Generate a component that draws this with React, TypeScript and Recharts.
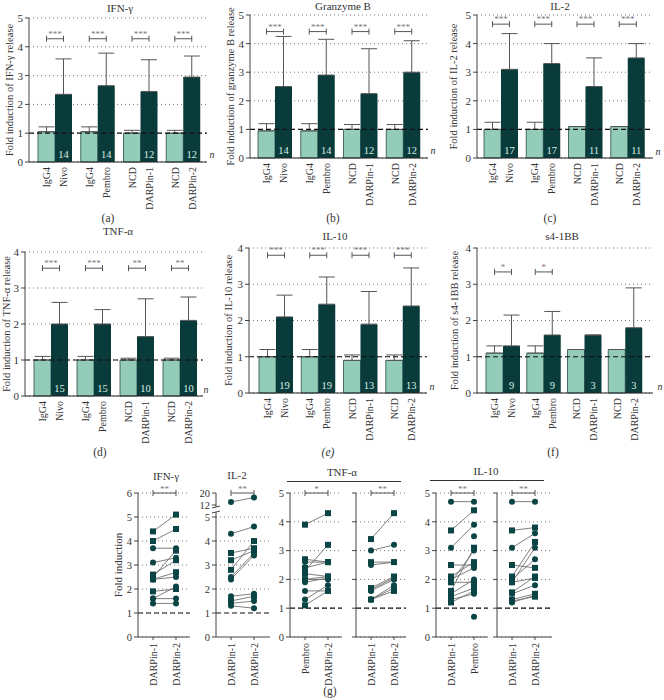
import React from 'react'
import {
  BarChart, Bar, XAxis, YAxis, CartesianGrid, ReferenceLine, ErrorBar, LabelList,
  LineChart, Line,
} from 'recharts'

const FONT = '"Liberation Serif", "DejaVu Serif", serif'
const LIGHT = '#93cdb9'
const DARK = '#0a3b3b'
const DOT = '#0b4444'
const INK = '#333'

// bar panels: pairs of control / treatment
const ctrlLabels = ['IgG4', 'IgG4', 'NCD', 'NCD']
const treatLabels = ['Nivo', 'Pembro', 'DARPin-1', 'DARPin-2']

const ticks5 = [0, 1, 2, 3, 4, 5]
const ticks4 = [0, 1, 2, 3, 4]

// (a) IFN-γ
const ifngCtrl = [1.05, 1.05, 1.0, 1.0]
const ifngCtrlErr = [0.17, 0.17, 0.1, 0.1]
const ifngTreat = [2.35, 2.65, 2.45, 2.95]
const ifngTreatErr = [1.23, 1.13, 1.1, 0.73]
const ifngN = [14, 14, 12, 12]
const ifngSig = ['***', '***', '***', '***']

// (b) Granzyme B
const gzbCtrl = [0.95, 0.95, 1.0, 1.0]
const gzbCtrlErr = [0.25, 0.25, 0.17, 0.17]
const gzbTreat = [2.5, 2.9, 2.25, 3.0]
const gzbTreatErr = [1.75, 1.25, 1.57, 1.1]
const gzbN = [14, 14, 12, 12]
const gzbSig = ['***', '***', '***', '***']

// (c) IL-2
const il2Ctrl = [1.0, 1.0, 1.1, 1.1]
const il2CtrlErr = [0.25, 0.25, 0, 0]
const il2Treat = [3.1, 3.3, 2.5, 3.5]
const il2TreatErr = [1.25, 0.7, 1.0, 0.5]
const il2N = [17, 17, 11, 11]
const il2Sig = ['***', '***', '***', '***']

// (d) TNF-α
const tnfCtrl = [1.0, 1.0, 1.0, 1.0]
const tnfCtrlErr = [0.1, 0.1, 0.05, 0.05]
const tnfTreat = [2.0, 2.0, 1.65, 2.1]
const tnfTreatErr = [0.6, 0.4, 1.05, 0.65]
const tnfN = [15, 15, 10, 10]
const tnfSig = ['***', '***', '**', '**']

// (e) IL-10
const il10Ctrl = [1.0, 1.0, 0.9, 0.9]
const il10CtrlErr = [0.2, 0.2, 0.15, 0.15]
const il10Treat = [2.1, 2.45, 1.9, 2.4]
const il10TreatErr = [0.6, 0.75, 0.9, 1.05]
const il10N = [19, 19, 13, 13]
const il10Sig = ['***', '***', '***', '***']

// (f) s4-1BB
const bbCtrl = [1.1, 1.1, 1.2, 1.2]
const bbCtrlErr = [0.2, 0.2, 0, 0]
const bbTreat = [1.3, 1.6, 1.6, 1.8]
const bbTreatErr = [0.85, 0.65, 0, 1.1]
const bbN = [9, 9, 3, 3]
const bbSig = ['*', '*', '', '']

// (g) paired donors
const ifngGCats = ['DARPin-1', 'DARPin-2']
const ifngGLeft = [4.4, 4.0, 3.7, 3.1, 2.6, 2.5, 2.4, 2.4, 1.9, 1.6, 1.6, 1.4]
const ifngGRight = [5.1, 4.5, 3.7, 3.3, 3.2, 3.6, 2.7, 2.5, 2.0, 2.1, 1.6, 1.4]
const ifngGShape = ['s', 's', 'c', 'c', 's', 's', 's', 'c', 's', 'c', 'c', 'c']

const il2GCats = ['DARPin-1', 'DARPin-2']
const il2GLeft = [14, 4.3, 3.5, 3.2, 2.8, 2.5, 2.4, 1.7, 1.5, 1.4, 1.3]
const il2GRight = [17, 4.6, 3.7, 3.6, 4.0, 3.5, 3.4, 1.8, 1.7, 1.5, 1.2]
const il2GShape = ['c', 'c', 's', 's', 's', 'c', 'c', 'c', 's', 'c', 'c']

const tnfG1Cats = ['Pembro', 'DARPin-2']
const tnfG1Left = [3.9, 2.7, 2.6, 2.4, 2.3, 2.2, 2.0, 2.0, 1.9, 1.6, 1.3, 1.1]
const tnfG1Right = [4.3, 2.6, 2.6, 2.6, 3.2, 2.1, 2.1, 2.0, 2.05, 1.6, 1.8, 1.6]
const tnfG1Shape = ['s', 's', 'c', 's', 's', 's', 's', 'c', 'c', 'c', 'c', 's']

const tnfG2Cats = ['DARPin-1', 'DARPin-2']
const tnfG2Left = [3.4, 3.0, 2.6, 2.5, 1.7, 1.65, 1.6, 1.3, 1.3, 1.3]
const tnfG2Right = [4.3, 3.2, 2.6, 2.6, 2.1, 2.05, 2.0, 1.8, 1.6, 1.7]
const tnfG2Shape = ['s', 'c', 's', 'c', 's', 's', 'c', 'c', 's', 'c']

const il10G1Cats = ['DARPin-1', 'Pembro']
const il10G1Left = [4.7, 3.7, 3.1, 2.5, 2.1, 2.0, 1.9, 1.9, 1.6, 1.5, 1.4, 1.3, 1.2, null, null, null]
const il10G1Right = [4.7, 4.4, 3.9, 2.5, 2.6, 2.4, 3.0, 1.9, 3.1, 2.0, 1.7, 1.5, 1.6, 3.5, 0.7, 1.8]
const il10G1Shape = ['c', 's', 'c', 's', 's', 'c', 'c', 's', 's', 'c', 's', 'c', 's', 'c', 'c', 's']

const il10G2Cats = ['DARPin-1', 'DARPin-2']
const il10G2Left = [4.7, 3.7, 3.1, 2.5, 2.1, 2.0, 1.9, 1.9, 1.55, 1.5, 1.3, 1.25, 1.2]
const il10G2Right = [4.7, 3.8, 3.6, 2.4, 3.3, 2.7, 3.1, 2.05, 2.1, 1.8, 1.5, 1.4, 1.45]
const il10G2Shape = ['c', 's', 'c', 's', 's', 'c', 'c', 's', 's', 'c', 's', 's', 'c']

const ticksG6 = [0, 1, 2, 3, 4, 5, 6]
const ticksG5 = [0, 1, 2, 3, 4, 5]
// IL-2 axis is broken above 5 (12..20 squeezed into the top band)
const ticksIl2 = [0, 1, 2, 3, 4, 5, 5.5, 6]
const toBroken = (v: number | null) => (v == null ? null : v <= 5 ? v : 5.5 + ((v - 12) / 8) * 0.5)
const fromBroken = (v: number) => (v === 5.5 ? '12' : v === 6 ? '20' : String(v))

function makeRows(ctrl: number[], ctrlErr: number[], treat: number[], treatErr: number[], n: number[], sig: string[]) {
  return treatLabels.map((t, i) => ({
    name: t, ctrl: ctrl[i], ctrlErr: [0, ctrlErr[i]], treat: treat[i], treatErr: [0, treatErr[i]], n: n[i], sig: sig[i],
  }))
}

const BW = 17
const TICK_FS = 10

function PairTick(props: any) {
  const { x, y, payload } = props
  const i = treatLabels.indexOf(payload.value)
  const t = (dx: number, s: string) => (
    <text transform={`translate(${x + dx},${y + 1}) rotate(-90)`} textAnchor="end" dominantBaseline="central"
      fontSize={TICK_FS} fill={INK} fontFamily={FONT}>{s}</text>
  )
  return <g>{t(-BW / 2, ctrlLabels[i])}{t(BW / 2, treatLabels[i])}</g>
}

function BarPanel(props: any) {
  const { rows, boxLeft, boxTop, axisX, plotTop, plotRight, plotBottom, padL, padR, yMax, ticks, sigY, yLabel, yLabelX } = props
  const width = plotRight - boxLeft + 12
  const height = plotBottom - boxTop + 55
  const midY = (plotTop + plotBottom) / 2 - boxTop
  const treatLabel = (p: any) => {
    const r = rows[p.index]
    const x = Number(p.x), y = Number(p.y), w = Number(p.width), h = Number(p.height)
    const base = y + h
    const k = h / r.treat
    const sy = base - sigY * k
    const x1 = x - w / 2, x2 = x + w / 2
    return (
      <g key={`lab-${p.index}`}>
        {r.sig ? (
          <g stroke="#555" strokeWidth={1}>
            <line x1={x1} x2={x2} y1={sy} y2={sy} />
            <line x1={x1} x2={x1} y1={sy - 3} y2={sy + 3} />
            <line x1={x2} x2={x2} y1={sy - 3} y2={sy + 3} />
          </g>
        ) : null}
        {r.sig ? <text x={(x1 + x2) / 2} y={sy - 2} textAnchor="middle" fontSize={9} fill="#777" fontFamily={FONT}>{r.sig}</text> : null}
        <text x={x + w / 2} y={base - 4} textAnchor="middle" fontSize={10.5} fill="#d6eee6" fontFamily={FONT}>{r.n}</text>
      </g>
    )
  }
  return (
    <div style={{ position: 'absolute', left: boxLeft, top: boxTop }}>
      <BarChart width={width} height={height} data={rows} barGap={0}
        margin={{ top: plotTop - boxTop, right: 12, bottom: 10, left: 0 }}>
        <CartesianGrid vertical={false} stroke="#777" strokeDasharray="1 3" />
        <XAxis dataKey="name" height={45} padding={{ left: padL, right: padR }} interval={0}
          axisLine={{ stroke: '#222' }} tickLine={false} tickSize={2} tick={(p: any) => <PairTick {...p} />} />
        <YAxis width={axisX - boxLeft} domain={[0, yMax]} ticks={ticks} interval={0} tickSize={4} tickMargin={2}
          axisLine={{ stroke: '#444' }} tickLine={{ stroke: '#444' }}
          tick={{ fontSize: 11, fill: INK, fontFamily: FONT }}
          label={{
            content: () => (
              <text transform={`translate(${yLabelX - boxLeft},${midY}) rotate(-90)`} textAnchor="middle"
                dominantBaseline="central" fontSize={10.5} fill={INK} fontFamily={FONT}>{yLabel}</text>
            ),
          }} />
        <Bar dataKey="ctrl" fill={LIGHT} stroke="#2a4a46" strokeWidth={0.8} barSize={BW} isAnimationActive={false}>
          <ErrorBar dataKey="ctrlErr" width={8} stroke="#555" strokeWidth={1} direction="y" />
        </Bar>
        <Bar dataKey="treat" fill={DARK} barSize={BW} isAnimationActive={false}>
          <ErrorBar dataKey="treatErr" width={8} stroke="#555" strokeWidth={1} direction="y" />
          <LabelList dataKey="n" content={treatLabel} />
        </Bar>
        <ReferenceLine y={1} stroke="#111" strokeWidth={1.2} strokeDasharray="5 3" />
      </BarChart>
    </div>
  )
}

const makeDot = (shape: string) => (p: any) => {
  const { cx, cy, value, index } = p
  const k = `d-${index}`
  if (value == null || cy == null || isNaN(cy)) return <g key={k} />
  return shape === 's'
    ? <rect key={k} x={cx - 3} y={cy - 3} width={6} height={6} fill={DOT} />
    : <circle key={k} cx={cx} cy={cy} r={3} fill={DOT} />
}

function CatTick(props: any) {
  const { x, y, payload } = props
  return (
    <text transform={`translate(${x},${y + 1}) rotate(-90)`} textAnchor="end" dominantBaseline="central"
      fontSize={TICK_FS} fill={INK} fontFamily={FONT}>{payload.value}</text>
  )
}

function PairPanel(props: any) {
  const { cats, left, right, shapes, boxLeft, axisX, plotRight, yMax, ticks, showTickText, sig, tickFmt, gridValues, yLabel, yLabelX } = props
  const boxTop = 470
  const plotTop = 493
  const plotBottom = 637
  const padL = 15
  const padR = plotRight - axisX - 15 - 23
  const tf = tickFmt || ((v: number) => String(v))
  const conv = props.conv || ((v: number | null) => v)
  const rows = cats.map((c: string, j: number) => {
    const r: any = { cat: c }
    const src = j === 0 ? left : right
    src.forEach((v: number | null, i: number) => { r[`p${i}`] = conv(v) })
    return r
  })
  const d = 3 * (yMax / (plotBottom - plotTop))
  return (
    <div style={{ position: 'absolute', left: boxLeft, top: boxTop }}>
      <LineChart width={plotRight - boxLeft + 4} height={plotBottom - boxTop + 50} data={rows}
        margin={{ top: plotTop - boxTop, right: 4, bottom: 5, left: 0 }}>
        <CartesianGrid vertical={false} stroke="#777" strokeDasharray="1 3" horizontalValues={gridValues} />
        <XAxis dataKey="cat" height={45} padding={{ left: padL, right: padR }} interval={0}
          axisLine={{ stroke: '#444' }} tickLine={{ stroke: '#444' }} tickSize={3} tick={(p: any) => <CatTick {...p} />} />
        <YAxis width={axisX - boxLeft} domain={[0, yMax]} ticks={ticks} interval={0} tickSize={4} tickMargin={2}
          axisLine={{ stroke: '#444' }} tickLine={{ stroke: '#444' }}
          tickFormatter={(v: number) => (showTickText ? tf(v) : '')}
          tick={{ fontSize: 10.5, fill: INK, fontFamily: FONT }}
          label={yLabel ? {
            content: () => (
              <text transform={`translate(${yLabelX - boxLeft},${(plotTop + plotBottom) / 2 - boxTop}) rotate(-90)`}
                textAnchor="middle" dominantBaseline="central" fontSize={11} fill={INK} fontFamily={FONT}>{yLabel}</text>
            ),
          } : undefined} />
        <ReferenceLine y={1} stroke="#111" strokeWidth={1.2} strokeDasharray="5 3" />
        {left.map((_: any, i: number) => (
          <Line key={i} dataKey={`p${i}`} stroke="#707070" strokeWidth={0.9} dot={makeDot(shapes[i])}
            activeDot={false} isAnimationActive={false} />
        ))}
        <ReferenceLine segment={[{ x: cats[0], y: yMax }, { x: cats[1], y: yMax }]} stroke="#555" ifOverflow="visible"
          label={{ value: sig, position: 'top', fontSize: 9, fill: '#777', fontFamily: FONT, offset: 1 }} />
        <ReferenceLine segment={[{ x: cats[0], y: yMax - d }, { x: cats[0], y: yMax + d }]} stroke="#555" ifOverflow="visible" />
        <ReferenceLine segment={[{ x: cats[1], y: yMax - d }, { x: cats[1], y: yMax + d }]} stroke="#555" ifOverflow="visible" />
      </LineChart>
    </div>
  )
}

const txt = (s: string, x: number, y: number, size = 11, extra: any = {}) => (
  <div style={{
    position: 'absolute', left: x - 60, top: y - size * 0.65, width: 120, textAlign: 'center',
    fontFamily: FONT, fontSize: size, color: INK, lineHeight: 1.2, whiteSpace: 'nowrap', ...extra,
  }}>{s}</div>
)

export default function App() {
  return (
    <div style={{ position: 'absolute', left: 0, top: 0, width: 664, height: 700, background: '#fff', overflow: 'hidden' }}>
      <BarPanel rows={makeRows(ifngCtrl, ifngCtrlErr, ifngTreat, ifngTreatErr, ifngN, ifngSig)}
        boxLeft={0} boxTop={0} axisX={29} plotTop={18} plotRight={207} plotBottom={162} padL={5} padR={2}
        yMax={5} ticks={ticks5} sigY={4.28} yLabel="Fold induction of IFN-γ release" yLabelX={9} />
      <BarPanel rows={makeRows(gzbCtrl, gzbCtrlErr, gzbTreat, gzbTreatErr, gzbN, gzbSig)}
        boxLeft={222} boxTop={0} axisX={250} plotTop={15} plotRight={428} plotBottom={158} padL={4} padR={3}
        yMax={5} ticks={ticks5} sigY={4.42} yLabel="Fold induction of granzyme B release" yLabelX={230} />
      <BarPanel rows={makeRows(il2Ctrl, il2CtrlErr, il2Treat, il2TreatErr, il2N, il2Sig)}
        boxLeft={447} boxTop={0} axisX={477} plotTop={15} plotRight={653} plotBottom={158} padL={3} padR={4}
        yMax={5} ticks={ticks5} sigY={4.68} yLabel="Fold induction of IL-2 release" yLabelX={453} />
      <BarPanel rows={makeRows(tnfCtrl, tnfCtrlErr, tnfTreat, tnfTreatErr, tnfN, tnfSig)}
        boxLeft={0} boxTop={230} axisX={25} plotTop={252} plotRight={203} plotBottom={396} padL={4} padR={2}
        yMax={4} ticks={ticks4} sigY={3.55} yLabel="Fold induction of TNF-α release" yLabelX={6} />
      <BarPanel rows={makeRows(il10Ctrl, il10CtrlErr, il10Treat, il10TreatErr, il10N, il10Sig)}
        boxLeft={222} boxTop={230} axisX={249} plotTop={248} plotRight={427} plotBottom={393} padL={6} padR={3}
        yMax={4} ticks={ticks4} sigY={3.8} yLabel="Fold induction of IL-10 release" yLabelX={228} />
      <BarPanel rows={makeRows(bbCtrl, bbCtrlErr, bbTreat, bbTreatErr, bbN, bbSig)}
        boxLeft={447} boxTop={230} axisX={477} plotTop={248} plotRight={653} plotBottom={393} padL={6} padR={7}
        yMax={4} ticks={ticks4} sigY={3.34} yLabel="Fold induction of s4-1BB release" yLabelX={454} />

      <PairPanel cats={ifngGCats} left={ifngGLeft} right={ifngGRight} shapes={ifngGShape}
        boxLeft={106} axisX={138} plotRight={190} yMax={6} ticks={ticksG6} showTickText sig="**"
        yLabel="Fold induction" yLabelX={118} />
      <PairPanel cats={il2GCats} left={il2GLeft} right={il2GRight} shapes={il2GShape} conv={toBroken}
        boxLeft={194} axisX={216} plotRight={270} yMax={6} ticks={ticksIl2} showTickText sig="**"
        tickFmt={fromBroken} gridValues={[2, 3, 4, 5]} />
      <PairPanel cats={tnfG1Cats} left={tnfG1Left} right={tnfG1Right} shapes={tnfG1Shape}
        boxLeft={270} axisX={290} plotRight={342} yMax={5} ticks={ticksG5} showTickText sig="*" />
      <PairPanel cats={tnfG2Cats} left={tnfG2Left} right={tnfG2Right} shapes={tnfG2Shape}
        boxLeft={346} axisX={356} plotRight={406} yMax={5} ticks={ticksG5} sig="**" />
      <PairPanel cats={il10G1Cats} left={il10G1Left} right={il10G1Right} shapes={il10G1Shape}
        boxLeft={416} axisX={436} plotRight={488} yMax={5} ticks={ticksG5} showTickText sig="**" />
      <PairPanel cats={il10G2Cats} left={il10G2Left} right={il10G2Right} shapes={il10G2Shape}
        boxLeft={487} axisX={497} plotRight={552} yMax={5} ticks={ticksG5} sig="**" />

      {/* axis break on the IL-2 paired panel */}
      <svg style={{ position: 'absolute', left: 210, top: 505, overflow: 'visible' }} width={12} height={10}>
        <rect x={3} y={2} width={6} height={5} fill="#fff" />
        <line x1={2} y1={3} x2={10} y2={1} stroke="#444" strokeWidth={1} />
        <line x1={2} y1={8} x2={10} y2={6} stroke="#444" strokeWidth={1} />
      </svg>

      {txt('IFN-γ', 120, 9, 11)}
      {txt('Granzyme B', 343, 7, 11)}
      {txt('IL-2', 560, 7, 11)}
      {txt('TNF-α', 118, 232, 11)}
      {txt('IL-10', 335, 237, 11)}
      {txt('s4-1BB', 562, 237, 11)}

      {txt('n', 212, 155, 10, { fontStyle: 'italic' })}
      {txt('n', 433, 151, 10, { fontStyle: 'italic' })}
      {txt('n', 658, 152, 10, { fontStyle: 'italic' })}
      {txt('n', 206, 390, 10, { fontStyle: 'italic' })}
      {txt('n', 432, 387, 10, { fontStyle: 'italic' })}
      {txt('n', 660, 387, 10, { fontStyle: 'italic' })}

      {txt('(a)', 108, 219, 11.5)}
      {txt('(b)', 333, 219, 11.5)}
      {txt('(c)', 550, 219, 11.5)}
      {txt('(d)', 100, 453, 11.5)}
      {txt('(e)', 328, 453, 11.5, { fontStyle: 'italic' })}
      {txt('(f)', 553, 453, 11.5)}
      {txt('(g)', 330, 692, 11.5)}

      {txt('IFN-γ', 166, 477, 11)}
      {txt('IL-2', 237, 476, 11)}
      {txt('TNF-α', 342, 473, 11)}
      <div style={{ position: 'absolute', left: 287, top: 481, width: 114, height: 1, background: '#333' }} />
      {txt('IL-10', 486, 472, 11)}
      <div style={{ position: 'absolute', left: 430, top: 480, width: 114, height: 1, background: '#333' }} />
    </div>
  )
}
